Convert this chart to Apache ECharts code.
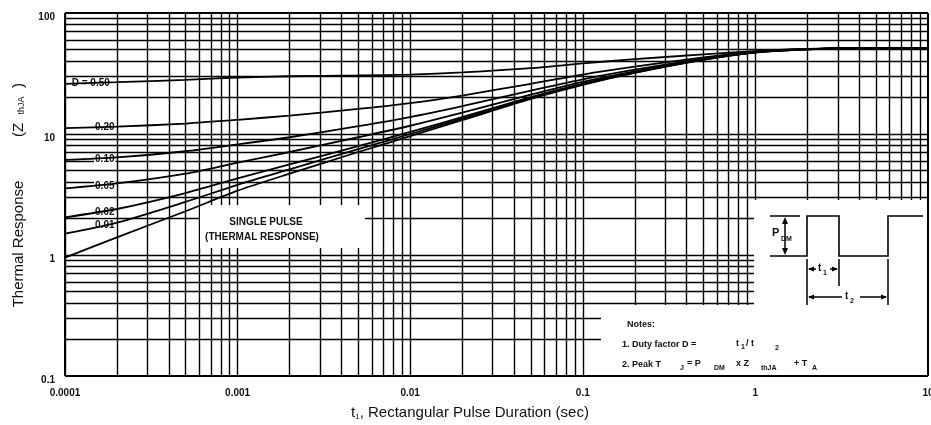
<!DOCTYPE html>
<html>
<head>
<meta charset="utf-8">
<title>Thermal Response</title>
<script src="https://cdn.jsdelivr.net/npm/echarts@6/dist/echarts.min.js"></script>
<style>
  html, body { margin: 0; padding: 0; background: #fff; }
  #chart { width: 931px; height: 425px; }
</style>
</head>
<body>
<div id="chart"></div>
<script>
// pulse duration t1 (sec)
const pulseTimes = [0.0001, 0.0002, 0.0005, 0.001, 0.002, 0.005, 0.01, 0.02, 0.05, 0.1, 0.2, 0.5, 1, 2, 5, 10]

// Z thJA, one list per duty factor
const zD050 = [26, 26.8, 28, 29.3, 30, 30.5, 31, 32.3, 35, 38.3, 41.5, 45.5, 48.5, 50.5, 51.5, 51.5]
const zD020 = [11.2, 11.5, 12.2, 13.1, 14.2, 16.1, 18, 20.8, 26, 31, 36, 43, 48, 50.3, 51.5, 51.5]
const zD010 = [6.1, 6.4, 7.2, 8.2, 9.4, 11.6, 13.8, 17, 22.8, 28.3, 34, 42, 47.6, 50.2, 51.5, 51.5]
const zD005 = [3.55, 3.9, 4.7, 5.8, 7.1, 9.4, 11.7, 15, 21.2, 27, 33, 41.6, 47.4, 50.1, 51.5, 51.5]
const zD002 = [2.05, 2.4, 3.25, 4.3, 5.6, 7.95, 10.4, 13.8, 20.2, 26.1, 32.4, 41.3, 47.3, 50, 51.5, 51.5]
const zD001 = [1.5, 1.85, 2.75, 3.8, 5.1, 7.5, 10, 13.4, 19.8, 25.8, 32.2, 41.2, 47.2, 50, 51.5, 51.5]
const zSingle = [0.95, 1.4, 2.3, 3.4, 4.7, 7.1, 9.6, 13, 19.5, 25.5, 32, 41, 47, 50, 51.5, 51.5]

// curve labels and where they sit on each curve
const dutyNames = ['D = 0.50', '0.20', '0.10', '0.05', '0.02', '0.01']
const dutyLabelTimes = [0.000141, 0.00017, 0.00017, 0.00017, 0.00017, 0.00017]
const dutyLabelZ = [26.1, 11.4, 6.2, 3.7, 2.25, 1.75]

// axes
const xTickLabels = ['0.0001', '0.001', '0.01', '0.1', '1', '10']
const yTickLabels = ['0.1', '1', '10', '100']
const xDecades = [0.0001, 0.001, 0.01, 0.1, 1]
const yDecades = [0.1, 1, 10]
const gridSteps = [1, 2, 3, 4, 5, 6, 7, 8, 9]

const FONT = '"Liberation Sans", Arial, sans-serif'
const INK = '#111'

const xGrid = []
xDecades.forEach(d => gridSteps.forEach(m => xGrid.push(+(d * m).toPrecision(3))))
const yGrid = []
yDecades.forEach(d => gridSteps.forEach(m => yGrid.push(+(d * m).toPrecision(3))))

const zipCurve = zs => pulseTimes.map((t, i) => [t, zs[i]])
const curves = [zD050, zD020, zD010, zD005, zD002, zD001, zSingle]

const chart = echarts.init(document.getElementById('chart'))

const curveSeries = curves.map((zs, i) => ({
  type: 'line',
  z: 5,
  data: zipCurve(zs),
  smooth: 0.25,
  showSymbol: false,
  silent: true,
  lineStyle: { color: '#000', width: 1.8 },
  markPoint: i < dutyNames.length ? {
    symbol: 'rect',
    symbolSize: 0,
    silent: true,
    data: [{ coord: [dutyLabelTimes[i], dutyLabelZ[i]] }],
    label: {
      show: true,
      position: 'inside',
      formatter: dutyNames[i],
      color: INK,
      fontFamily: FONT,
      fontWeight: 'bold',
      fontSize: 10,
      backgroundColor: '#fff',
      padding: [0, 1]
    }
  } : undefined
}))

// grid lines at 1..9 of every decade plus the frame, drawn through the axes
const gridSeries = {
  type: 'lines',
  coordinateSystem: 'cartesian2d',
  z: 1,
  silent: true,
  lineStyle: { color: '#000', width: 1.4, opacity: 1 },
  data: xGrid.map(v => ({ coords: [[v, 0.1], [v, 100]] }))
    .concat(yGrid.map(v => ({ coords: [[0.0001, v], [10, v]] })))
}
const frameSeries = {
  type: 'lines',
  coordinateSystem: 'cartesian2d',
  z: 8,
  silent: true,
  lineStyle: { color: '#000', width: 2, opacity: 1 },
  data: [
    { coords: [[0.0001, 0.1], [10, 0.1]] },
    { coords: [[10, 0.1], [10, 100]] },
    { coords: [[0.0001, 100], [10, 100]] },
    { coords: [[0.0001, 0.1], [0.0001, 100]] }
  ]
}

const txt = (x, y, text, size, align) => ({
  type: 'text', x, y, z: 20,
  style: {
    text, fill: INK, align: align || 'left', verticalAlign: 'middle',
    font: `bold ${size}px ${FONT}`
  }
})
const seg = (x1, y1, x2, y2) => ({
  type: 'line', z: 20,
  shape: { x1, y1, x2, y2 },
  style: { stroke: '#000', lineWidth: 1.5 }
})
const head = pts => ({ type: 'polygon', z: 20, shape: { points: pts }, style: { fill: '#000' } })

chart.setOption({
  animation: false,
  backgroundColor: '#fff',
  grid: {
    left: 65, right: 3, top: 13, bottom: 49,
    outerBoundsMode: 'none', containLabel: false,
    show: false
  },
  xAxis: {
    type: 'log',
    logBase: 10,
    min: 0.0001,
    max: 10,
    axisLine: { show: false },
    axisTick: { show: false },
    splitLine: { show: false },
    axisLabel: {
      margin: 12,
      color: INK,
      fontFamily: FONT,
      fontWeight: 'bold',
      fontSize: 10,
      formatter: v => xTickLabels[Math.round(Math.log10(v)) + 4] || ''
    }
  },
  yAxis: {
    type: 'log',
    logBase: 10,
    min: 0.1,
    max: 100,
    axisLine: { show: false },
    axisTick: { show: false },
    splitLine: { show: false },
    axisLabel: {
      margin: 10,
      color: INK,
      fontFamily: FONT,
      fontWeight: 'bold',
      fontSize: 10,
      verticalAlign: 'top',
      lineHeight: 9,
      formatter: v => yTickLabels[Math.round(Math.log10(v)) + 1] || ''
    }
  },
  graphic: [
    // axis titles
    {
      type: 'text', x: 470, y: 413, z: 20,
      style: {
        text: '{a|t}{s|1}{a|, Rectangular Pulse Duration (sec)}',
        align: 'center', verticalAlign: 'middle',
        rich: {
          a: { fontFamily: FONT, fontSize: 15, fill: INK, color: INK },
          s: { fontFamily: FONT, fontSize: 8, fill: INK, color: INK, verticalAlign: 'bottom', padding: [6, 0, 0, 0] }
        }
      }
    },
    {
      type: 'text', x: 19, y: 244, rotation: Math.PI / 2, z: 20,
      style: { text: 'Thermal Response', align: 'center', verticalAlign: 'middle', fill: INK, font: `15px ${FONT}` }
    },
    {
      type: 'text', x: 19, y: 110, rotation: Math.PI / 2, z: 20,
      style: {
        text: '{a|(Z  }{s|thJA}{a|  )}',
        align: 'center', verticalAlign: 'middle',
        rich: {
          a: { fontFamily: FONT, fontSize: 15, fill: INK, color: INK },
          s: { fontFamily: FONT, fontSize: 9, fill: INK, color: INK, verticalAlign: 'bottom', padding: [6, 0, 0, 0] }
        }
      }
    },
    // single pulse box
    { type: 'rect', z: 3, shape: { x: 200, y: 205, width: 165, height: 43 }, style: { fill: '#fff' } },
    txt(266, 222, 'SINGLE PULSE', 10, 'center'),
    txt(262, 237, '(THERMAL RESPONSE)', 10, 'center'),
    // notes box
    { type: 'rect', z: 3, shape: { x: 754, y: 200, width: 174, height: 176 }, style: { fill: '#fff' } },
    { type: 'rect', z: 3, shape: { x: 601, y: 305, width: 327, height: 71 }, style: { fill: '#fff' } },
    // pulse waveform
    {
      type: 'polyline', z: 20,
      shape: { points: [[770, 256], [807, 256], [807, 216], [839, 216], [839, 256], [888, 256], [888, 216], [923, 216]] },
      style: { stroke: '#000', lineWidth: 1.6, fill: null }
    },
    seg(770, 216, 800, 216),
    seg(785, 220, 785, 252),
    head([[785, 217], [782, 224], [788, 224]]),
    head([[785, 255], [782, 248], [788, 248]]),
    txt(772, 233, 'P', 11),
    txt(781, 239, 'DM', 7),
    seg(807, 259, 807, 305),
    seg(839, 259, 839, 286),
    seg(888, 259, 888, 305),
    seg(809, 269, 816, 269),
    seg(830, 269, 837, 269),
    head([[808, 269], [814, 266.5], [814, 271.5]]),
    head([[838, 269], [832, 266.5], [832, 271.5]]),
    txt(818, 268, 't', 10),
    txt(823, 273, '1', 7),
    seg(809, 297, 842, 297),
    seg(860, 297, 886, 297),
    head([[808, 297], [814, 294.5], [814, 299.5]]),
    head([[887, 297], [881, 294.5], [881, 299.5]]),
    txt(845, 296, 't', 10),
    txt(850, 301, '2', 7),
    // notes
    txt(627, 325, 'Notes:', 9),
    txt(622, 345, '1. Duty factor D =', 9),
    txt(736, 344, 't', 9),
    txt(741, 347, '1', 7),
    txt(746, 344, '/ t', 9),
    txt(775, 348, '2', 7),
    txt(622, 365, '2. Peak T', 9),
    txt(680, 368, 'J', 7),
    txt(687, 364, '= P', 9),
    txt(714, 368, 'DM', 7),
    txt(736, 364, 'x Z', 9),
    txt(761, 368, 'thJA', 7),
    txt(794, 364, '+ T', 9),
    txt(812, 368, 'A', 7)
  ],
  series: [gridSeries].concat(curveSeries, [frameSeries])
})
</script>
</body>
</html>
